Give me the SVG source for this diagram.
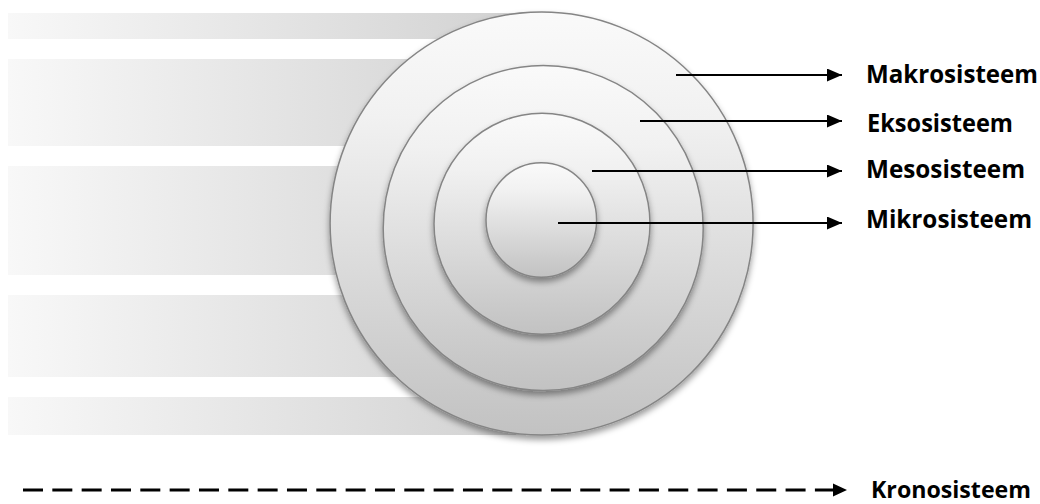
<svg xmlns="http://www.w3.org/2000/svg" width="1040" height="504" viewBox="0 0 1040 504">
  <defs>
    <linearGradient id="bandGrad" x1="0" y1="0" x2="1" y2="0">
      <stop offset="0" stop-color="#f8f8f8"/>
      <stop offset="1" stop-color="#d0d0d0"/>
    </linearGradient>
    <linearGradient id="discGrad" x1="0" y1="0" x2="0" y2="1">
      <stop offset="0" stop-color="#fafafa"/>
      <stop offset="0.25" stop-color="#f1f1f1"/>
      <stop offset="1" stop-color="#c2c2c2"/>
    </linearGradient>
    <filter id="shadow" x="-20%" y="-20%" width="140%" height="150%">
      <feDropShadow dx="0" dy="4" stdDeviation="3" flood-color="#000" flood-opacity="0.4"/>
    </filter>
    <marker id="arrow" markerUnits="userSpaceOnUse" markerWidth="16" markerHeight="13" refX="15" refY="6.5" orient="auto">
      <path d="M0,0 L15,6.5 L0,13 z" fill="#000"/>
    </marker>
    <style>
      .band { fill: url(#bandGrad); }
      .disc { fill: url(#discGrad); stroke: #858585; stroke-width: 1.5; filter: url(#shadow); }
      .conn { stroke: #000; stroke-width: 2; fill: none; marker-end: url(#arrow); }
      .dash { stroke: #000; stroke-width: 3; fill: none; stroke-dasharray: 20 9.33; }
      .lbl { font-family: "Open Sans", "Noto Sans", "Liberation Sans", sans-serif; font-weight: bold; font-size: 24.5px; fill: #000; }
      .lbl-small { font-size: 23px; }
    </style>
  </defs>

  <rect width="1040" height="504" fill="#ffffff"/>

  <g id="bands">
    <rect class="band" x="8" y="13" width="534" height="26"/>
    <rect class="band" x="8" y="59" width="534" height="87"/>
    <rect class="band" x="8" y="166" width="534" height="109"/>
    <rect class="band" x="8" y="295" width="534" height="82"/>
    <rect class="band" x="8" y="397" width="534" height="38"/>
  </g>

  <g id="makrosisteem-disc">
    <circle class="disc" cx="541.6" cy="223.5" r="211.5"/>
  </g>
  <g id="eksosisteem-disc">
    <ellipse class="disc" cx="543.2" cy="228" rx="160" ry="162.5"/>
  </g>
  <g id="mesosisteem-disc">
    <ellipse class="disc" cx="542" cy="223.7" rx="108" ry="110.5"/>
  </g>
  <g id="mikrosisteem-disc">
    <ellipse class="disc" cx="541.3" cy="220" rx="55.3" ry="57.3"/>
  </g>

  <g id="connectors">
    <line class="conn" x1="676" y1="75" x2="842" y2="75"/>
    <line class="conn" x1="640" y1="121" x2="842" y2="121"/>
    <line class="conn" x1="592" y1="171" x2="842" y2="171"/>
    <line class="conn" x1="558" y1="223" x2="842" y2="223"/>
    <line class="dash" x1="23" y1="490" x2="834" y2="490"/>
    <path d="M833,483.5 L847,490 L833,496.5 z" fill="#000"/>
  </g>

  <g id="label-makrosisteem">
    <text class="lbl" x="866" y="83" textLength="172" lengthAdjust="spacingAndGlyphs">Makrosisteem</text>
  </g>
  <g id="label-eksosisteem">
    <text class="lbl" x="867" y="131.5" textLength="146" lengthAdjust="spacingAndGlyphs">Eksosisteem</text>
  </g>
  <g id="label-mesosisteem">
    <text class="lbl" x="866" y="178" textLength="159" lengthAdjust="spacingAndGlyphs">Mesosisteem</text>
  </g>
  <g id="label-mikrosisteem">
    <text class="lbl" x="866" y="228" textLength="166" lengthAdjust="spacingAndGlyphs">Mikrosisteem</text>
  </g>
  <g id="label-kronosisteem">
    <text class="lbl lbl-small" x="871" y="498" textLength="160" lengthAdjust="spacingAndGlyphs">Kronosisteem</text>
  </g>
</svg>
